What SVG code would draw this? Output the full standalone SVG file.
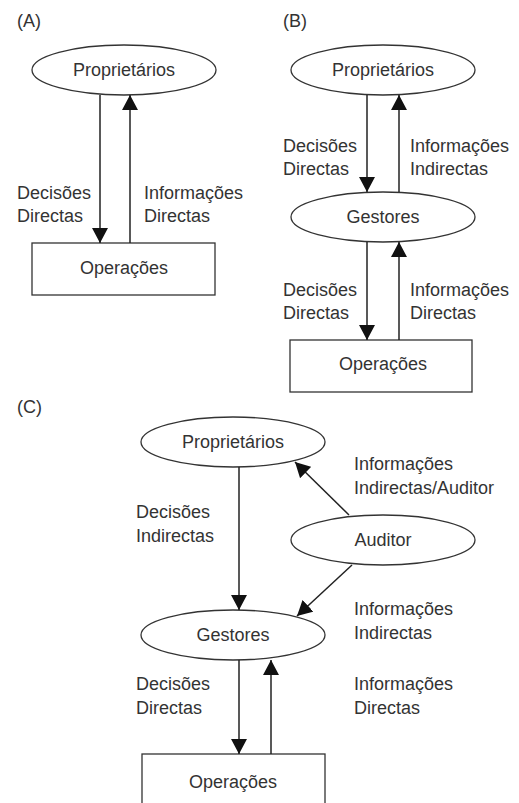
<svg xmlns="http://www.w3.org/2000/svg" width="519" height="803" viewBox="0 0 519 803">
  <style>
    text { font-family: "Liberation Sans", Arial, sans-serif; font-size: 18px; fill: #333; }
    .c { text-anchor: middle; }
    .node { fill: #fff; stroke: #333; stroke-width: 1.3; }
    .edge { fill: none; stroke: #222; stroke-width: 1.5; marker-end: url(#arrow); }
  </style>
  <defs>
    <marker id="arrow" markerUnits="userSpaceOnUse" markerWidth="16" markerHeight="16" refX="15" refY="8" orient="auto">
      <path d="M0,0 L15,8 L0,16 Z" fill="#111"/>
    </marker>
  </defs>
  <rect width="519" height="803" fill="#fff"/>

  <!-- Panel labels -->
  <text x="17" y="27">(A)</text>
  <text x="283" y="27">(B)</text>
  <text x="17" y="413">(C)</text>

  <!-- (A) nodes -->
  <g id="a-proprietarios">
    <ellipse class="node" cx="124" cy="70" rx="92" ry="25"/>
    <text class="c" x="124" y="76">Proprietários</text>
  </g>
  <g id="a-operacoes">
    <rect class="node" x="32" y="243" width="183" height="52"/>
    <text class="c" x="124" y="274">Operações</text>
  </g>

  <!-- (B) nodes -->
  <g id="b-proprietarios">
    <ellipse class="node" cx="383" cy="70" rx="92" ry="25"/>
    <text class="c" x="383" y="76">Proprietários</text>
  </g>
  <g id="b-gestores">
    <ellipse class="node" cx="383" cy="217" rx="92" ry="25"/>
    <text class="c" x="383" y="223">Gestores</text>
  </g>
  <g id="b-operacoes">
    <rect class="node" x="290" y="340" width="182" height="52"/>
    <text class="c" x="383" y="370">Operações</text>
  </g>

  <!-- (C) nodes -->
  <g id="c-proprietarios">
    <ellipse class="node" cx="233" cy="442" rx="92" ry="25"/>
    <text class="c" x="233" y="448">Proprietários</text>
  </g>
  <g id="c-auditor">
    <ellipse class="node" cx="383" cy="540" rx="92" ry="25"/>
    <text class="c" x="383" y="546">Auditor</text>
  </g>
  <g id="c-gestores">
    <ellipse class="node" cx="233" cy="635" rx="92" ry="25"/>
    <text class="c" x="233" y="641">Gestores</text>
  </g>
  <g id="c-operacoes">
    <rect class="node" x="142" y="754" width="183" height="80"/>
    <text class="c" x="233" y="788">Operações</text>
  </g>

  <!-- Connectors -->
  <g id="connectors">
    <!-- (A) -->
    <line class="edge" x1="100" y1="95" x2="100" y2="243"/>
    <line class="edge" x1="130" y1="243" x2="130" y2="95"/>
    <!-- (B) -->
    <line class="edge" x1="367" y1="95" x2="367" y2="192"/>
    <line class="edge" x1="399" y1="192" x2="399" y2="95"/>
    <line class="edge" x1="367" y1="242" x2="367" y2="340"/>
    <line class="edge" x1="399" y1="340" x2="399" y2="242"/>
    <!-- (C) -->
    <line class="edge" x1="239" y1="467" x2="239" y2="610"/>
    <line class="edge" x1="349" y1="515" x2="295" y2="462"/>
    <line class="edge" x1="352" y1="565" x2="297" y2="616"/>
    <line class="edge" x1="239" y1="660" x2="239" y2="754"/>
    <line class="edge" x1="271" y1="754" x2="271" y2="660"/>
  </g>

  <!-- Connector labels -->
  <g id="labels">
    <text x="17" y="199">Decisões</text>
    <text x="17" y="222">Directas</text>
    <text x="144" y="199">Informações</text>
    <text x="144" y="222">Directas</text>

    <text x="283" y="152">Decisões</text>
    <text x="283" y="175">Directas</text>
    <text x="410" y="152">Informações</text>
    <text x="410" y="175">Indirectas</text>
    <text x="283" y="296">Decisões</text>
    <text x="283" y="319">Directas</text>
    <text x="410" y="296">Informações</text>
    <text x="410" y="319">Directas</text>

    <text x="354" y="470">Informações</text>
    <text x="354" y="494">Indirectas/Auditor</text>
    <text x="136" y="518">Decisões</text>
    <text x="136" y="542">Indirectas</text>
    <text x="354" y="615">Informações</text>
    <text x="354" y="639">Indirectas</text>
    <text x="136" y="690">Decisões</text>
    <text x="136" y="714">Directas</text>
    <text x="354" y="690">Informações</text>
    <text x="354" y="714">Directas</text>
  </g>
</svg>
